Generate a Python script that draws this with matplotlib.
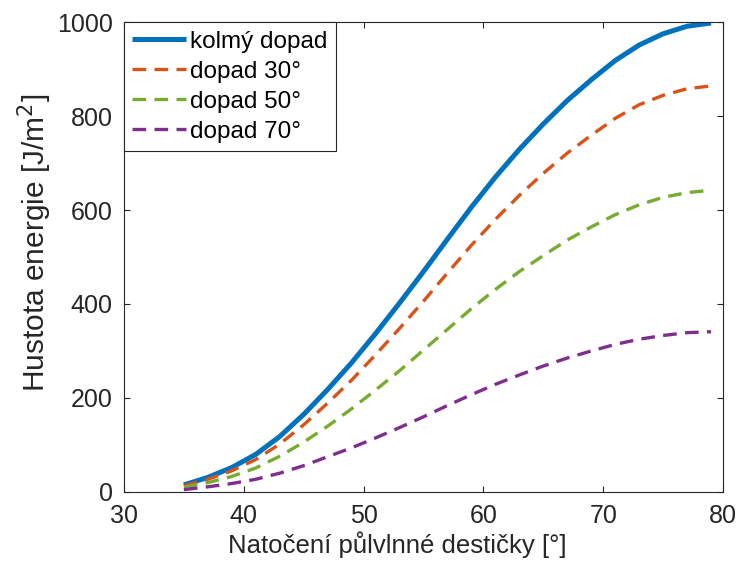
import matplotlib
matplotlib.use("Agg")
import matplotlib.pyplot as plt

plt.rcParams['font.family'] = ['Liberation Sans', 'DejaVu Sans']

angle = [35, 37, 39, 41, 43, 45, 47, 49, 51, 53, 55, 57, 59, 61, 63, 65, 67, 69, 71, 73, 75, 77, 79]
kolmy = [15, 31, 52, 80, 118, 165, 218, 275, 337, 402, 469, 538, 606, 670, 729, 783, 833, 877, 918, 951, 975, 991, 998]
dopad30 = [13, 27, 45, 69, 102, 143, 189, 238, 292, 348, 406, 466, 525, 580, 631, 678, 721, 759, 795, 824, 844, 858, 864]
dopad50 = [10, 20, 33, 51, 76, 106, 140, 177, 217, 258, 302, 346, 390, 431, 469, 503, 536, 564, 590, 611, 627, 637, 642]
dopad70 = [5, 11, 18, 27, 40, 56, 75, 94, 115, 137, 160, 184, 207, 229, 249, 268, 285, 300, 314, 325, 333, 339, 341]

labels = ['kolmý dopad', 'dopad 30°', 'dopad 50°', 'dopad 70°']
colors = ['#0072BD', '#D95319', '#77AC30', '#7E2F8E']

fig = plt.figure(figsize=(7.41, 5.72), dpi=100)
ax = fig.add_axes([0.1673, 0.1399, 0.8084, 0.8216])

ax.plot(angle, kolmy, color=colors[0], lw=3.6, label=labels[0], solid_capstyle='butt')
for ys, c, lab in zip([dopad30, dopad50, dopad70], colors[1:], labels[1:]):
    ax.plot(angle, ys, color=c, lw=2.4, dashes=(4.1, 2.5), label=lab)

ax.set_xlim(30, 80)
ax.set_ylim(0, 1000)
ax.set_xticks([30, 40, 50, 60, 70, 80])
ax.set_yticks([0, 200, 400, 600, 800, 1000])
ax.tick_params(direction='in', top=True, right=True, labelsize=18, colors='#262626',
               length=4, width=0.8)
ax.tick_params(axis='x', pad=9)
ax.tick_params(axis='y', pad=8)
for s in ax.spines.values():
    s.set_color('#262626')
    s.set_linewidth(0.8)

ax.set_xlabel('Natočení půlvlnné destičky [°]', fontsize=18.5, color='#262626',
              labelpad=2, x=0.456)
ax.set_ylabel('Hustota energie [J/m$^2$]', fontsize=21.5, color='#262626',
              labelpad=2, y=0.53)

leg = ax.legend(loc='upper left', fontsize=17.5, frameon=True, fancybox=False,
                edgecolor='#262626', framealpha=1, handlelength=2.2, handletextpad=0.16,
                borderaxespad=0, borderpad=0.35, labelspacing=0.33)
leg.get_frame().set_linewidth(0.8)

fig.savefig('out.png', dpi=100)
